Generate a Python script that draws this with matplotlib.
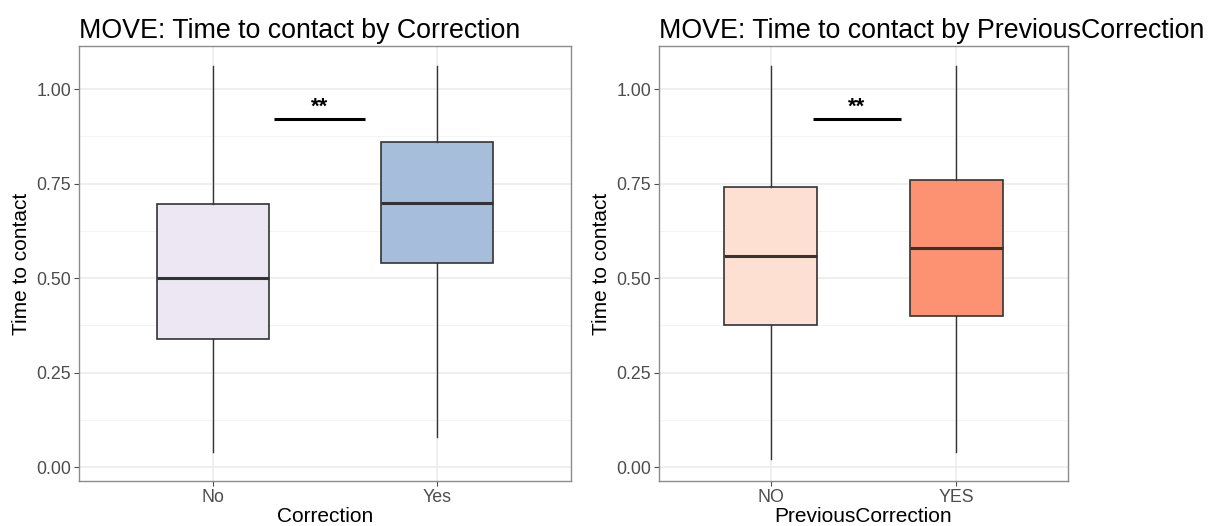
import numpy as np
import matplotlib
matplotlib.use("Agg")
import matplotlib.pyplot as plt
from matplotlib.ticker import MultipleLocator

plt.rcParams['font.family'] = ['Liberation Sans', 'DejaVu Sans']

# left panel: Correction
corr_labels = ['No', 'Yes']
corr_whislo = [0.04, 0.08]
corr_q1 = [0.339, 0.539]
corr_med = [0.499, 0.699]
corr_q3 = [0.695, 0.859]
corr_whishi = [1.06, 1.06]
corr_colors = ['#ECE7F2', '#A6BDDB']
corr_sig = (1.27, 1.68, 0.92, '**')

# right panel: PreviousCorrection
prev_labels = ['NO', 'YES']
prev_whislo = [0.02, 0.04]
prev_q1 = [0.377, 0.399]
prev_med = [0.558, 0.579]
prev_q3 = [0.740, 0.759]
prev_whishi = [1.06, 1.06]
prev_colors = ['#FEE0D2', '#FC9272']
prev_sig = (1.23, 1.70, 0.92, '**')

W, H = 1219, 526
fig = plt.figure(figsize=(W / 100, H / 100), dpi=100)


def panel(rect, labels, lo, q1, med, q3, hi, colors, sig, title, xlabel):
    x0, y0, x1, y1 = rect
    ax = fig.add_axes([x0 / W, (H - y1) / H, (x1 - x0) / W, (y1 - y0) / H])
    stats = []
    for i in range(len(labels)):
        stats.append(dict(whislo=lo[i], q1=q1[i], med=med[i], q3=q3[i],
                          whishi=hi[i], fliers=[], label=labels[i]))
    bp = ax.bxp(stats, positions=[1, 2], widths=0.5, patch_artist=True,
                showcaps=False, showfliers=False,
                boxprops=dict(edgecolor='#333333', linewidth=1.2),
                medianprops=dict(color='#333333', linewidth=2.2),
                whiskerprops=dict(color='#333333', linewidth=1.0),
                zorder=3)
    for patch, c in zip(bp['boxes'], colors):
        patch.set_facecolor(c)

    xa, xb, ys, txt = sig
    ax.plot([xa, xb], [ys, ys], color='black', linewidth=2.2, zorder=4,
            solid_capstyle='butt')
    ax.text((xa + xb) / 2, ys + 0.004, txt, ha='center', va='bottom',
            fontsize=16, fontweight='bold', zorder=4)

    ax.set_xlim(0.4, 2.6)
    ax.set_ylim(-0.037, 1.114)
    ax.yaxis.set_minor_locator(MultipleLocator(0.125))
    ax.set_yticks([0, 0.25, 0.5, 0.75, 1.0])
    ax.set_yticklabels(['0.00', '0.25', '0.50', '0.75', '1.00'])
    ax.grid(True, which='major', color='#EBEBEB', linewidth=1.1, zorder=0)
    ax.grid(True, which='minor', axis='y', color='#F2F2F2', linewidth=0.6, zorder=0)
    ax.set_axisbelow(True)
    ax.tick_params(axis='both', which='major', colors='#4D4D4D', labelsize=12.8,
                   length=3.5, width=0.8, labelcolor='#4D4D4D', pad=2)
    ax.tick_params(axis='y', which='minor', length=0)
    for s in ax.spines.values():
        s.set_color('#8C8C8C')
        s.set_linewidth(1.0)
    ax.set_ylabel('Time to contact', fontsize=15, labelpad=4)
    ax.set_xlabel(xlabel, fontsize=15, labelpad=1)
    ax.set_title(title, fontsize=19.3, loc='left', pad=6)
    return ax


panel((79, 46, 571, 481), corr_labels, corr_whislo, corr_q1, corr_med, corr_q3,
      corr_whishi, corr_colors, corr_sig,
      'MOVE: Time to contact by Correction', 'Correction')
panel((659, 46, 1068, 481), prev_labels, prev_whislo, prev_q1, prev_med, prev_q3,
      prev_whishi, prev_colors, prev_sig,
      'MOVE: Time to contact by PreviousCorrection', 'PreviousCorrection')

fig.savefig('out.png', dpi=100)
